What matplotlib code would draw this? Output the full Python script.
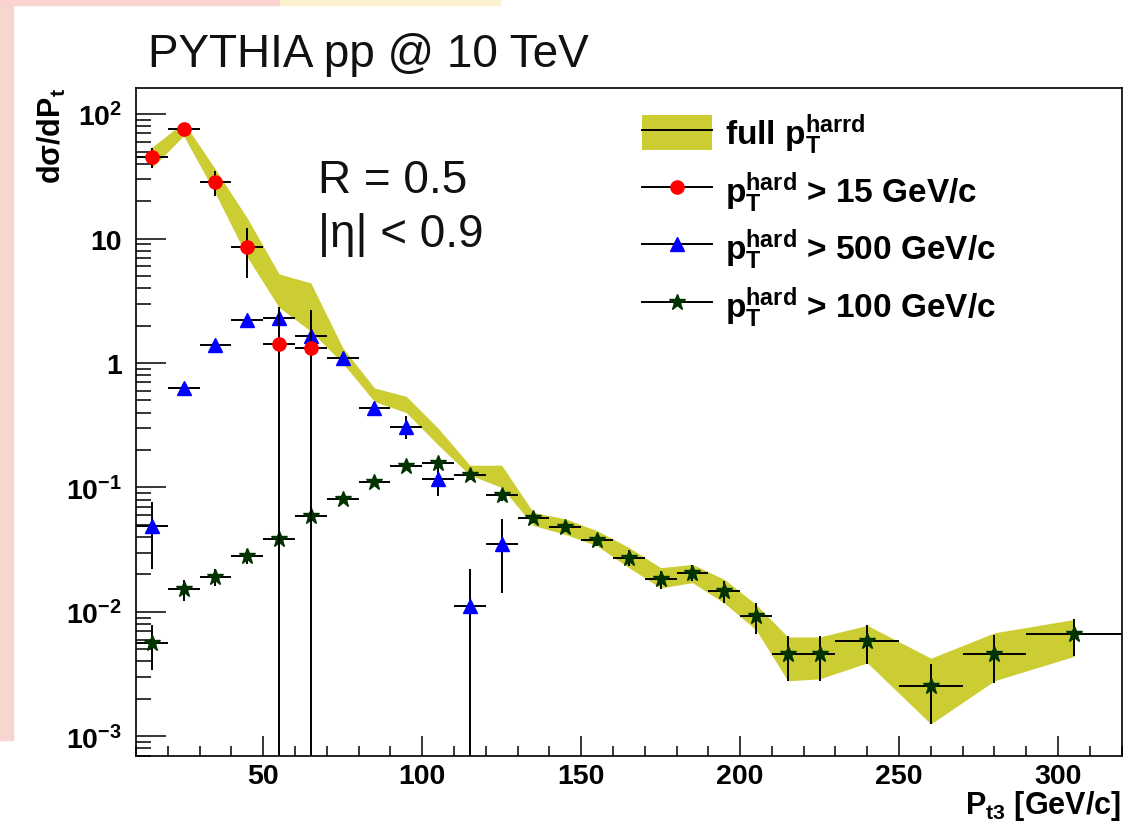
import numpy as np
import matplotlib
matplotlib.use('Agg')
import matplotlib.pyplot as plt
from matplotlib.patches import Patch, Rectangle
from matplotlib.lines import Line2D
from matplotlib.ticker import MultipleLocator, LogLocator, NullFormatter

plt.rcParams['font.family'] = ['Liberation Sans', 'DejaVu Sans']
plt.rcParams['mathtext.fontset'] = 'custom'
plt.rcParams['mathtext.bf'] = 'Liberation Sans:bold'
plt.rcParams['mathtext.rm'] = 'Liberation Sans:bold'
plt.rcParams['mathtext.default'] = 'bf'

# bin centres and half widths (GeV/c)
pt = [15, 25, 35, 45, 55, 65, 75, 85, 95, 105, 115, 125, 135, 145, 155,
      165, 175, 185, 195, 205, 215, 225, 240, 260, 280, 305]
pt_err = [5] * 22 + [10, 10, 10, 15]

# full pT hard band (lower / upper edge)
band_lo = [37, 67, 23, 7.1, 2.8, 1.8, 1.0, 0.49, 0.40, 0.22, 0.126, 0.10,
           0.0495, 0.042, 0.034, 0.0227, 0.0156, 0.0172, 0.0118, 0.0072,
           0.0028, 0.0029, 0.0039, 0.00126, 0.0028, 0.0044]
band_hi = [54, 86, 36, 14.6, 5.2, 4.4, 1.33, 0.63, 0.54, 0.30, 0.151, 0.151,
           0.063, 0.056, 0.045, 0.033, 0.0227, 0.0241, 0.0183, 0.0115,
           0.0063, 0.0063, 0.0078, 0.00425, 0.0068, 0.0087]

# pT hard > 15 GeV/c
y15 = [45, 76, 28.3, 8.5, 1.42, 1.33]
e15 = [8, 8, 6.5, 3.7, 1.42, 1.33]

# pT hard > 500 GeV/c
y500 = [0.049, 0.63, 1.40, 2.22, 2.3, 1.66, 1.10, 0.435, 0.309, 0.118, 0.0111, 0.0351]
e500 = [0.027, 0.05, 0.1, 0.15, 0.3, 0.3, 0.1, 0.05, 0.065, 0.033, 0.0111, 0.021]

# pT hard > 100 GeV/c
y100 = [0.0056, 0.0152, 0.0192, 0.0282, 0.0385, 0.0585, 0.081, 0.111, 0.149,
        0.156, 0.126, 0.0865, 0.057, 0.048, 0.038, 0.0272, 0.0183, 0.0207,
        0.0147, 0.0092, 0.0046, 0.0046, 0.0058, 0.00255, 0.0046, 0.0066]
e100 = [0.0022, 0.003, 0.003, 0.004, 0.004, 0.005, 0.006, 0.008, 0.01,
        0.015, 0.012, 0.008, 0.005, 0.004, 0.004, 0.004, 0.003, 0.003,
        0.003, 0.0026, 0.0018, 0.0018, 0.002, 0.0013, 0.0019, 0.0022]

ytick_vals = [1e-3, 1e-2, 1e-1, 1, 10, 100]
ytick_labels = [r'10$^{-3}$', r'10$^{-2}$', r'10$^{-1}$', '1', '10', r'10$^{2}$']

band_color = '#cccc33'

fig = plt.figure(figsize=(11.33, 8.28), dpi=100)
# slide background peeking out at the edges
fig.patches.append(Rectangle((0, 0.105), 13 / 1133, 0.895, transform=fig.transFigure,
                             color='#f7d6cf', zorder=0))
fig.patches.append(Rectangle((0, 1 - 6 / 828), 280 / 1133, 6 / 828, transform=fig.transFigure,
                             color='#fbd3d0', zorder=0))
fig.patches.append(Rectangle((280 / 1133, 1 - 6 / 828), 220 / 1133, 6 / 828,
                             transform=fig.transFigure, color='#fdf1d2', zorder=0))
ax = fig.add_axes([0.120, 0.0861, 0.870, 0.8064])

ax.fill_between(pt, band_lo, band_hi, color=band_color, lw=0, zorder=1)

n15 = len(y15)
n500 = len(y500)
ax.errorbar(pt[:n15], y15, xerr=pt_err[:n15], yerr=e15, fmt='o', color='red',
            ms=9.5, ecolor='black', elinewidth=1.4, capsize=0, zorder=4)
ax.errorbar(pt[:n500], y500, xerr=pt_err[:n500], yerr=e500, fmt='^', color='blue',
            ms=10, ecolor='black', elinewidth=1.4, capsize=0, zorder=3)
ax.errorbar(pt, y100, xerr=pt_err, yerr=e100, fmt='*', color='#003300',
            ms=12, ecolor='black', elinewidth=1.4, capsize=0, zorder=3)

ax.set_yscale('log')
ax.set_xlim(10, 320)
ax.set_ylim(7e-4, 162)
ax.set_yticks(ytick_vals)
ax.set_yticklabels(ytick_labels)
ax.yaxis.set_minor_locator(LogLocator(base=10, subs=np.arange(2, 10)))
ax.yaxis.set_minor_formatter(NullFormatter())
ax.xaxis.set_major_locator(MultipleLocator(50))
ax.xaxis.set_minor_locator(MultipleLocator(10))

ax.tick_params(axis='y', which='major', direction='in', length=21.6, width=1.1, pad=10,
               labelsize=20.5)
ax.tick_params(axis='y', which='minor', direction='in', length=10.8, width=1.1)
ax.tick_params(axis='x', which='major', direction='in', length=14.4, width=1.1, pad=5,
               labelsize=20.5)
ax.tick_params(axis='x', which='minor', direction='in', length=7.2, width=1.1)
for lab in ax.get_xticklabels() + ax.get_yticklabels():
    lab.set_fontweight('bold')
for sp in ax.spines.values():
    sp.set_linewidth(1.2)

fig.text(148 / 1133, 1 - 67 / 828, 'PYTHIA pp @ 10 TeV', fontsize=33, ha='left',
         va='baseline', color='#111111')
ax.text(318 / 1133, 1 - 193 / 828, 'R = 0.5', fontsize=33, transform=fig.transFigure,
        va='baseline', color='#111111')
ax.text(318 / 1133, 1 - 247 / 828, '|η| < 0.9', fontsize=33, transform=fig.transFigure,
        va='baseline', color='#111111')

fig.text(52 / 1133, 1 - 88 / 828, r'dσ/dP$_{t}$', rotation=90, fontsize=22,
         fontweight='bold', ha='center', va='top')
fig.text(1121 / 1133, 1 - 814 / 828, r'P$_{t3}$ [GeV/c]', fontsize=22,
         fontweight='bold', ha='right', va='baseline')

handles = [
    (Patch(facecolor=band_color, edgecolor='none'), Line2D([], [], color='black', lw=1.4)),
    Line2D([], [], color='black', lw=1.4, marker='o', mfc='red', mec='red', ms=9.5),
    Line2D([], [], color='black', lw=1.4, marker='^', mfc='blue', mec='blue', ms=10),
    Line2D([], [], color='black', lw=1.4, marker='*', mfc='#003300', mec='#003300', ms=12),
]
labels = [r'full p$_{T}^{harrd}$', r'p$_{T}^{hard}$ > 15 GeV/c',
          r'p$_{T}^{hard}$ > 500 GeV/c', r'p$_{T}^{hard}$ > 100 GeV/c']
leg = ax.legend(handles, labels, loc='upper left', bbox_to_anchor=(0.513, 0.965),
                frameon=False, borderpad=0, borderaxespad=0, handlelength=2.1,
                handleheight=1.25, handletextpad=0.4, labelspacing=0.38,
                prop={'size': 24, 'weight': 'bold'})

fig.savefig('out.png', dpi=100)
